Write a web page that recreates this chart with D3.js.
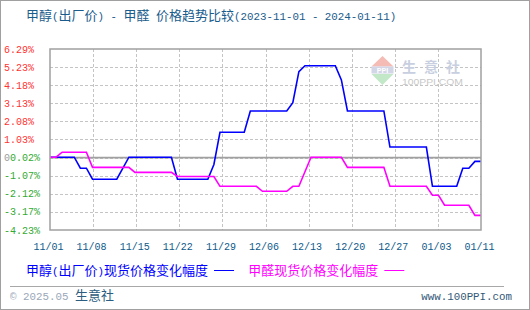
<!DOCTYPE html>
<html>
<head>
<meta charset="utf-8">
<script src="https://cdn.jsdelivr.net/npm/d3@7"></script>
<style>
  body { margin: 0; background: #fff; }
  #chart { width: 530px; height: 310px; }
</style>
</head>
<body>
<div id="chart"></div>
<script>
// title / legend texts
var titleText = "甲醇(出厂价) - 甲醛 价格趋势比较(2023-11-01 - 2024-01-11)";
var seriesNames = ["甲醇(出厂价)现货价格变化幅度", "甲醛现货价格变化幅度"];
var seriesColors = ["#0000ff", "#ff00ff"];

// y tick labels (top to bottom)
var yLabels = ["6.29%", "5.23%", "4.18%", "3.13%", "2.08%", "1.03%", "0.02%", "-1.07%", "-2.12%", "-3.17%", "-4.23%"];
var yMin = -4.23, yMax = 6.29;

// x range
var startDate = "2023-11-01", endDate = "2024-01-11";

// methanol (ex-factory) - change points
var methanolDates = ["2023-11-01","2023-11-05","2023-11-06","2023-11-07","2023-11-08","2023-11-12","2023-11-14","2023-11-21",
  "2023-11-22","2023-11-27","2023-11-28","2023-11-29","2023-12-03","2023-12-04","2023-12-10","2023-12-11","2023-12-12",
  "2023-12-13","2023-12-18","2023-12-19","2023-12-20","2023-12-26","2023-12-27","2024-01-02","2024-01-03","2024-01-07",
  "2024-01-08","2024-01-09","2024-01-10","2024-01-11"];
var methanolValues = [0, 0, -0.64, -0.64, -1.28, -1.28, 0, 0, -1.28, -1.28, -0.42, 1.45, 1.45, 2.69, 2.69, 3.17, 4.97,
  5.32, 5.32, 4.49, 2.69, 2.69, 0.59, 0.59, -1.69, -1.69, -0.64, -0.64, -0.24, -0.24];

// formaldehyde - change points
var formDates = ["2023-11-01","2023-11-02","2023-11-03","2023-11-07","2023-11-08","2023-11-14","2023-11-15","2023-11-21",
  "2023-11-22","2023-11-28","2023-11-29","2023-12-05","2023-12-06","2023-12-10","2023-12-11","2023-12-12","2023-12-14",
  "2023-12-19","2023-12-20","2023-12-26","2023-12-27","2024-01-02","2024-01-03","2024-01-04","2024-01-05","2024-01-09",
  "2024-01-10","2024-01-11"];
var formValues = [0, 0, 0.29, 0.29, -0.59, -0.59, -0.88, -0.88, -1.12, -1.12, -1.69, -1.69, -1.98, -1.98, -1.69, -1.69, 0,
  0, -0.59, -0.59, -1.69, -1.69, -2.21, -2.21, -2.79, -2.79, -3.38, -3.38];

var width = 530, height = 310,
    margin = {top: 49, right: 49, bottom: 80, left: 50};

var parse = d3.timeParse("%Y-%m-%d");
var fmt = d3.timeFormat("%m/%d");

var svg = d3.select("#chart").append("svg")
  .attr("width", width)
  .attr("height", height);

svg.append("rect")
  .attr("x", 0.5).attr("y", 0.5)
  .attr("width", width - 1).attr("height", height - 1)
  .style("fill", "#fff").style("stroke", "#a0a0a0");

// write mixed CJK / ascii text: ascii half width like the original bitmap font
function mixText(sel, str, size) {
  var runs = str.match(/[\x00-\x7f\u00a9]+|[^\x00-\x7f\u00a9]+/g);
  runs.forEach(function(r) {
    var ascii = /[\x00-\x7f\u00a9]/.test(r[0]);
    sel.append("tspan")
      .attr("font-family", ascii ? "Liberation Mono, DejaVu Sans Mono, monospace" : "Noto Sans CJK SC, sans-serif")
      .attr("font-size", ascii ? (size * 0.833) + "px" : size + "px")
      .style("white-space", "pre")
      .text(r);
  });
  return sel;
}

var x = d3.scaleTime()
  .domain([parse(startDate), parse(endDate)])
  .range([margin.left, width - margin.right]);

var y = d3.scaleLinear()
  .domain([yMin, yMax])
  .range([height - margin.bottom, margin.top]);

var x0 = margin.left, x1 = width - margin.right,
    yTop = margin.top, yBot = height - margin.bottom;

// 10 equal divisions each way
var yTicks = d3.range(11).map(function(i) { return yMax - i * (yMax - yMin) / 10; });
var xTicks = d3.range(11).map(function(i) {
  var a = parse(startDate).getTime(), b = parse(endDate).getTime();
  return new Date(a + i * (b - a) / 10);
});

var grid = svg.append("g").style("stroke", "#c4c4c4").style("stroke-dasharray", "3,2");
grid.selectAll(".hy").data(yTicks.slice(1, 10)).enter().append("line")
  .attr("x1", x0).attr("x2", x1)
  .attr("y1", function(d) { return Math.round(y(d)) + 0.5; })
  .attr("y2", function(d) { return Math.round(y(d)) + 0.5; });
grid.selectAll(".vx").data(xTicks.slice(1, 10)).enter().append("line")
  .attr("y1", yTop).attr("y2", yBot)
  .attr("x1", function(d) { return Math.round(x(d)) + 0.5; })
  .attr("x2", function(d) { return Math.round(x(d)) + 0.5; });

// base line at the 0.02% tick
svg.append("line")
  .attr("x1", x0).attr("x2", x1)
  .attr("y1", y(yTicks[6])).attr("y2", y(yTicks[6]))
  .style("stroke", "#a0a0a0").style("stroke-width", 1.6);

// watermark
var wm = svg.append("g");
wm.append("path").attr("d", "M371.5,66.5 L393.5,66.5 L382.5,56 Z").style("fill", "#f4bcb4");
wm.append("rect").attr("x", 371.5).attr("y", 66.5).attr("width", 22).attr("height", 7).style("fill", "#d2d6e6");
wm.append("text").attr("x", 382.5).attr("y", 72.5).attr("text-anchor", "middle")
  .style("font", "bold 7px Liberation Sans").style("fill", "#fff").text("PPI");
wm.append("path").attr("d", "M371.5,74 L393.5,74 L382.5,85 Z").style("fill", "#c2e8c8");
wm.append("text").attr("x", 402).attr("y", 71.5)
  .attr("textLength", 58).attr("lengthAdjust", "spacing")
  .style("font", "bold 14px 'Noto Sans CJK SC'").style("fill", "#c8cfe0").text("生意社");
wm.append("text").attr("x", 402).attr("y", 84.5)
  .attr("textLength", 61).attr("lengthAdjust", "spacingAndGlyphs")
  .style("font", "8.5px 'Liberation Sans'").style("fill", "#c8c8c8").text("100PPI.COM");

// lines
var line = d3.line()
  .x(function(d) { return x(d.date); })
  .y(function(d) { return y(d.value); });

var series = [
  methanolDates.map(function(d, i) { return {date: parse(d), value: methanolValues[i]}; }),
  formDates.map(function(d, i) { return {date: parse(d), value: formValues[i]}; })
];

svg.selectAll(".series").data(series).enter().append("path")
  .attr("d", line)
  .style("fill", "none")
  .style("stroke-width", 1.6)
  .style("stroke", function(d, i) { return seriesColors[i]; });

// frame
svg.append("rect")
  .attr("x", x0).attr("y", yTop)
  .attr("width", x1 - x0).attr("height", yBot - yTop)
  .style("fill", "none").style("stroke", "#a0a0a0").style("stroke-width", 1.5);

// y labels
yLabels.forEach(function(t, i) {
  var ty = y(yTicks[i]) + 3.5;
  var lab = svg.append("text").attr("x", 4).attr("y", ty)
    .style("font", "10px 'Liberation Mono'");
  if (i < 6) {
    lab.style("fill", "#ff3333").text(t);
  } else if (i == 6) {
    lab.append("tspan").style("fill", "#9a9a9a").text("0");
    lab.append("tspan").style("fill", "#33aa33").text(t);
  } else {
    lab.style("fill", "#33aa33").text(t);
  }
});

// x labels
svg.selectAll(".xl").data(xTicks).enter().append("text")
  .attr("x", function(d) { return x(d) - 1.5; })
  .attr("y", 250)
  .attr("text-anchor", "middle")
  .style("font", "10px 'Liberation Mono'")
  .style("fill", "#0d5a8a")
  .text(function(d) { return fmt(d); });

// title
mixText(svg.append("text").attr("x", 26).attr("y", 20).style("fill", "#1a5c8c"), titleText, 13);

// legend
var legX = [26, 248.3];
seriesNames.forEach(function(n, i) {
  var t = mixText(svg.append("text").attr("x", legX[i]).attr("y", 275).style("fill", seriesColors[i]), n, 13);
  var w = t.node().getComputedTextLength();
  svg.append("line")
    .attr("x1", legX[i] + w + 6).attr("x2", legX[i] + w + 26)
    .attr("y1", 270.5).attr("y2", 270.5)
    .style("stroke", seriesColors[i]);
});

// footer
svg.append("line").attr("x1", 10).attr("x2", 504).attr("y1", 286.5).attr("y2", 286.5).style("stroke", "#a8a8a8");
var ft = svg.append("text").attr("x", 10).attr("y", 300).style("fill", "#2b5d80");
mixText(ft, "© 2025.05 生意社", 13);
ft.select("tspan").style("fill", "#9aa8b8");
svg.append("text").attr("x", 512).attr("y", 300).attr("text-anchor", "end")
  .style("font", "10.8px 'Liberation Mono'").style("fill", "#335878")
  .text("www.100PPI.com");
</script>
</body>
</html>
